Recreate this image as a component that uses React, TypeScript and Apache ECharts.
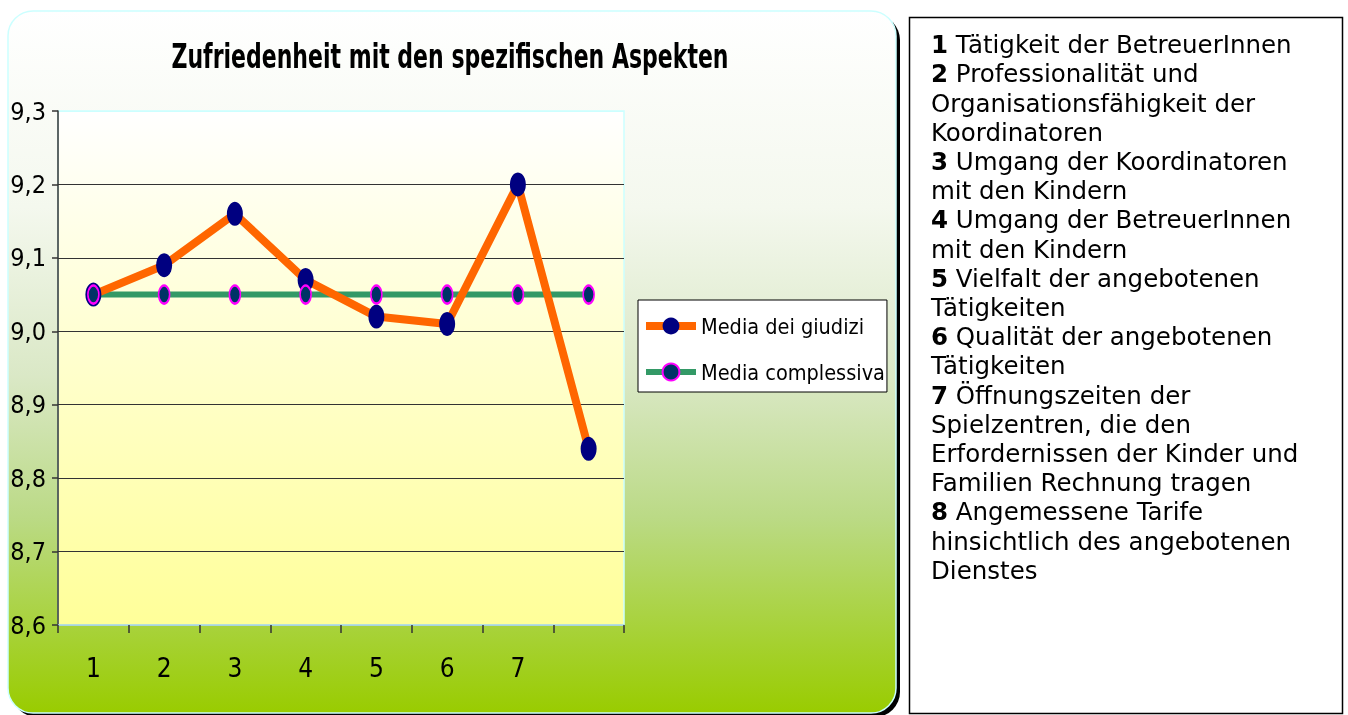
import React, { useEffect, useRef } from "react";
import * as echarts from "echarts";

const categories = ["1", "2", "3", "4", "5", "6", "7", ""];
const mediaGiudizi = [9.05, 9.09, 9.16, 9.07, 9.02, 9.01, 9.2, 8.84];
const mediaComplessiva = [9.05, 9.05, 9.05, 9.05, 9.05, 9.05, 9.05, 9.05];
const seriesNames = ["Media dei giudizi", "Media complessiva"];
const titleText = "Zufriedenheit mit den spezifischen Aspekten";
const yMin = 8.6;
const yMax = 9.3;
const yInterval = 0.1;

const aspectNumbers = ["1", "2", "3", "4", "5", "6", "7", "8"];
const aspectTexts = [
  "Tätigkeit der BetreuerInnen",
  "Professionalität und\nOrganisationsfähigkeit der\nKoordinatoren",
  "Umgang der Koordinatoren\nmit den Kindern",
  "Umgang der BetreuerInnen\nmit den Kindern",
  "Vielfalt der angebotenen\nTätigkeiten",
  "Qualität der angebotenen\nTätigkeiten",
  "Öffnungszeiten der\nSpielzentren, die den\nErfordernissen der Kinder und\nFamilien Rechnung tragen",
  "Angemessene Tarife\nhinsichtlich des angebotenen\nDienstes",
];

const NARROW = "'DejaVu Sans Condensed', 'Liberation Sans Narrow', sans-serif";
const VERDANA = "'DejaVu Sans', Verdana, sans-serif";

export default function App() {
  const ref = useRef<HTMLDivElement>(null);

  useEffect(() => {
    if (!ref.current) return;
    const chart = echarts.init(ref.current, null, { renderer: "svg" });

    const boxText = aspectNumbers
      .map((n, i) => `{b|${n}} ${aspectTexts[i]}`)
      .join("\n");

    const option: any = {
      animation: false,
      graphic: [
        {
          type: "rect",
          z: -20,
          silent: true,
          shape: { x: 12, y: 15, width: 888, height: 702, r: 25 },
          style: { fill: "#000000" },
        },
        {
          type: "rect",
          z: -19,
          silent: true,
          shape: { x: 8, y: 11, width: 888, height: 702, r: 25 },
          style: {
            fill: new echarts.graphic.LinearGradient(0, 0, 0, 1, [
              { offset: 0, color: "#ffffff" },
              { offset: 0.28, color: "#f4f8ee" },
              { offset: 0.52, color: "#dae8c6" },
              { offset: 0.72, color: "#bbda86" },
              { offset: 1, color: "#99cc00" },
            ]),
            stroke: "#ccffff",
            lineWidth: 1.5,
          },
        },
        {
          type: "rect",
          z: -19,
          silent: true,
          shape: { x: 909.5, y: 17.5, width: 433, height: 696 },
          style: { fill: "#ffffff", stroke: "#000000", lineWidth: 1.5 },
        },
        {
          type: "text",
          z: 10,
          x: 931,
          y: 30,
          style: {
            text: boxText,
            font: `24.5px ${VERDANA}`,
            fill: "#000000",
            lineHeight: 29.2,
            rich: {
              b: {
                fontFamily: VERDANA,
                fontSize: 24.5,
                fontWeight: "bold",
                lineHeight: 29.2,
                fill: "#000000",
              },
            },
          },
        },
        {
          type: "text",
          z: 10,
          x: 450,
          y: 57,
          scaleX: 0.72,
          style: {
            text: titleText,
            font: `bold 34px ${NARROW}`,
            fill: "#000000",
            align: "center",
            verticalAlign: "middle",
          },
        },
      ],
      grid: {
        left: 58,
        right: 1348 - 624,
        top: 111,
        bottom: 715 - 625,
        show: true,
        backgroundColor: new echarts.graphic.LinearGradient(0, 0, 0, 1, [
          { offset: 0, color: "#ffffff" },
          { offset: 1, color: "#ffff99" },
        ]),
        borderColor: "#ccffff",
        borderWidth: 1.5,
      },
      legend: {
        orient: "vertical",
        left: 638,
        top: 300,
        padding: [12, 2, 6, 4],
        itemGap: 18,
        itemWidth: 50,
        itemHeight: 21,
        backgroundColor: "#ffffff",
        borderColor: "#000000",
        borderWidth: 1,
        data: [
          { name: seriesNames[0], lineStyle: { color: "#ff6600", width: 8 } },
          { name: seriesNames[1], lineStyle: { color: "#339966", width: 6 } },
        ],
        textStyle: {
          fontFamily: NARROW,
          fontSize: 21.5,
          lineHeight: 28,
          color: "#000000",
        },
      },
      xAxis: {
        type: "category",
        data: categories,
        boundaryGap: true,
        axisLine: { show: true, lineStyle: { color: "#a9d4dc", width: 1.5 } },
        axisTick: { show: true, length: 8, lineStyle: { color: "#333333", width: 1.5 } },
        axisLabel: {
          margin: 30,
          fontFamily: NARROW,
          fontSize: 26,
          color: "#000000",
        },
        splitLine: { show: false },
      },
      yAxis: {
        type: "value",
        min: yMin,
        max: yMax,
        interval: yInterval,
        axisLine: { show: true, lineStyle: { color: "#333333", width: 1.5 } },
        axisTick: { show: true, length: 6, lineStyle: { color: "#333333", width: 1.5 } },
        axisLabel: {
          margin: 12,
          fontFamily: NARROW,
          fontSize: 25,
          color: "#000000",
          formatter: (v: number) => v.toFixed(1).replace(".", ","),
        },
        splitLine: {
          show: true,
          lineStyle: {
            color: ["#a9d4dc", "#333333", "#333333", "#333333", "#333333", "#333333", "#333333", "#ccffff"],
            width: 1,
          },
        },
      },
      series: [
        {
          name: seriesNames[1],
          type: "line",
          z: 2,
          data: mediaComplessiva,
          symbol: "circle",
          symbolSize: [11, 18],
          lineStyle: { color: "#339966", width: 6 },
          itemStyle: { color: "#003366", borderColor: "#ff00ff", borderWidth: 2 },
          showSymbol: false,
        },
        {
          name: seriesNames[0],
          type: "line",
          z: 3,
          data: mediaGiudizi,
          symbol: "circle",
          symbolSize: [16, 24],
          lineStyle: { color: "#ff6600", width: 8 },
          itemStyle: { color: "#000080" },
        },
        {
          name: "markers",
          type: "line",
          z: 4,
          data: mediaComplessiva,
          symbol: "circle",
          symbolSize: [11, 18],
          lineStyle: { width: 0, opacity: 0 },
          itemStyle: { color: "#003366", borderColor: "#ff00ff", borderWidth: 2 },
          tooltip: { show: false },
        },
      ],
    };

    chart.setOption(option);
    return () => {
      chart.dispose();
    };
  }, []);

  return (
    <div
      ref={ref}
      style={{ position: "fixed", left: 0, top: 0, width: 1348, height: 715 }}
    />
  );
}
